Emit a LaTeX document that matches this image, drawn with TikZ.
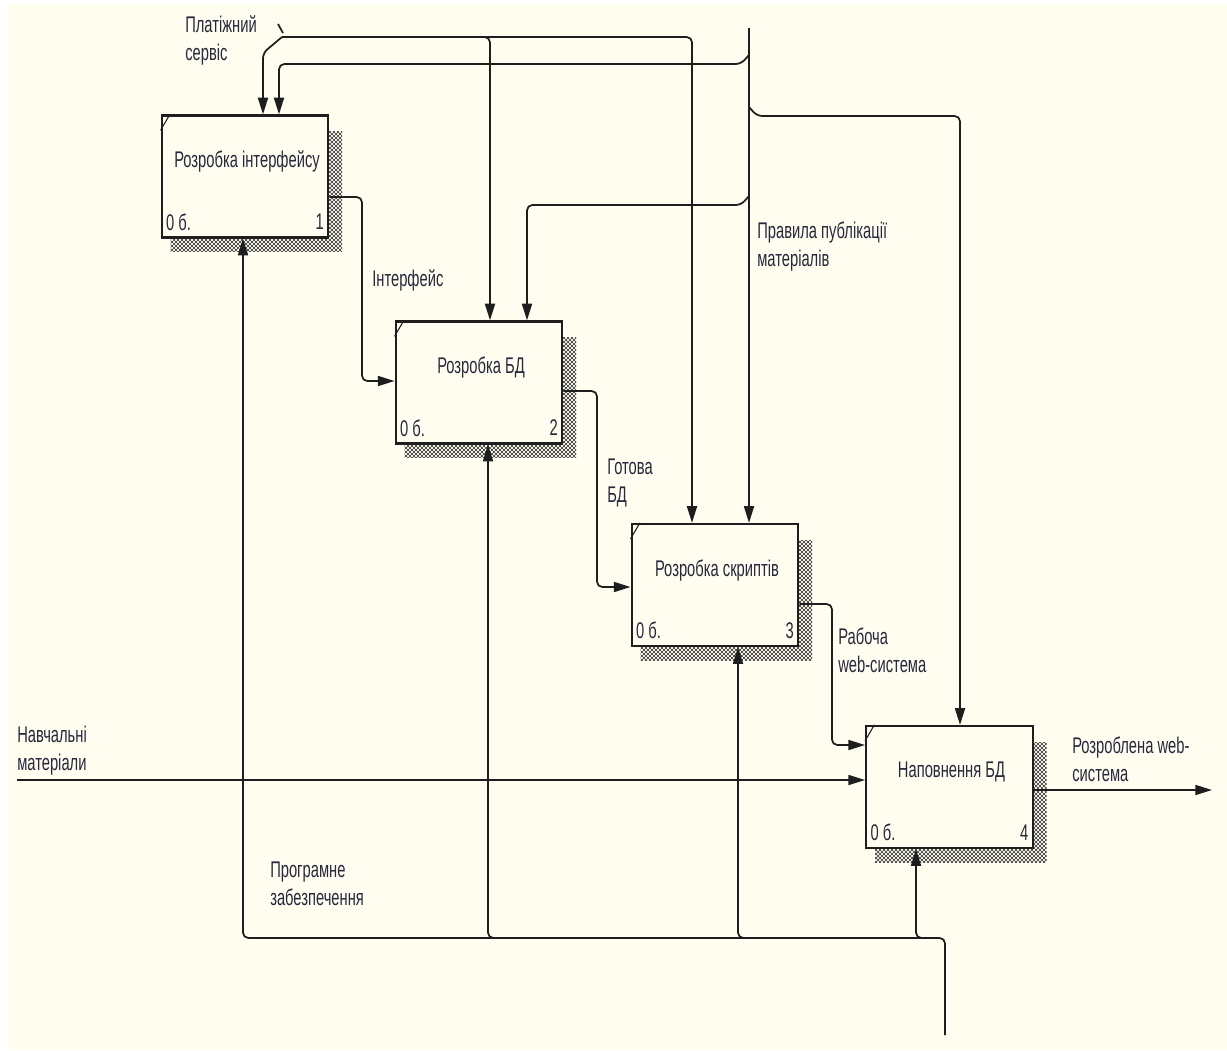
\documentclass[tikz,border=0pt]{standalone}
\usepackage{fontspec}
\newfontfamily\idefont[FakeStretch=0.65]{Liberation Sans}
\usepackage{tikz}
\usetikzlibrary{arrows.meta,patterns,backgrounds}
\definecolor{idefBg}{RGB}{255,253,240}
\definecolor{idefLine}{RGB}{30,30,30}
\definecolor{idefText}{RGB}{40,40,60}
\tikzset{
  actbox/.style={rectangle,draw=idefLine,line width=1.7pt,fill=idefBg,
    minimum width=125pt,minimum height=91.5pt,inner sep=0pt},
  arrow/.style={-{Triangle[length=12.5pt,width=7.5pt]},draw=idefLine,
    line width=1.3pt,rounded corners=4pt},
  conn/.style={draw=idefLine,line width=1.3pt},
  note/.style={font=\idefont\fontsize{17}{21}\selectfont,text=idefText,
    align=left,inner sep=0pt},
  hatch/.style={preaction={pattern=north east lines,pattern color=black!80},
    pattern=north west lines,pattern color=black!80}
}

\begin{document}
\begin{tikzpicture}[x=0.75pt,y=-0.75pt]
  \useasboundingbox (0,0) rectangle (1227,1050);

  % activity boxes
  \node[actbox] (b1) at (245,176.5) {};
  \node[actbox] (b2) at (479,382.5) {};
  \node[actbox] (b3) at (715,585) {};
  \node[actbox] (b4) at (949.5,787) {};

  \node[note] (t1) at ([xshift=1.5pt,yshift=11pt]b1.center) {Розробка інтерфейсу};
  \node[note] (t2) at ([xshift=1.5pt,yshift=11pt]b2.center) {Розробка БД};
  \node[note] (t3) at ([xshift=1.5pt,yshift=11pt]b3.center) {Розробка скриптів};
  \node[note] (t4) at ([xshift=1.5pt,yshift=11pt]b4.center) {Наповнення БД};

  \foreach \b/\n in {b1/1,b2/2,b3/3,b4/4}{
    \node[note,anchor=west] (\b c) at ([xshift=4pt,yshift=12.5pt]\b.south west) {0 б.};
    \node[note,anchor=east] (\b n) at ([xshift=-4pt,yshift=12.5pt]\b.south east) {\n};
    \draw[conn,line width=0.8pt] ([yshift=-12pt]\b.north west) -- ([xshift=7pt]\b.north west);
  }

  % free ends
  \coordinate (paySrc) at (282,37);
  \coordinate (ruleSrc) at (749,28);
  \coordinate (studyIn) at (17,780);
  \coordinate (resOut) at (1212,790);
  \coordinate (softSrc) at (945,1035);

  % controls
  \draw[conn] (278,24) -- (283,33);
  \draw[arrow] (paySrc) -- (263,53) -- (263,0 |- b1.north);
  \draw[arrow] (paySrc) -- (692,37) -- (692,0 |- b3.north);
  \draw[arrow] (482,37) -- (490,37) -- (490,0 |- b2.north);
  \draw[arrow] (ruleSrc) -- (749,0 |- b3.north);
  \draw[arrow] (749,55) -- (741,64) -- (279,64) -- (279,0 |- b1.north);
  \draw[arrow] (749,107) -- (757,116) -- (960,116) -- (960,0 |- b4.north);
  \draw[arrow] (749,196) -- (741,205) -- (527,205) -- (527,0 |- b2.north);

  % outputs and inputs
  \draw[arrow] (b1.east |- 0,197) -- (362,197) -- (362,381) -- (b2.west |- 0,381);
  \draw[arrow] (b2.east |- 0,391) -- (597,391) -- (597,587) -- (b3.west |- 0,587);
  \draw[arrow] (b3.east |- 0,604) -- (832,604) -- (832,745) -- (b4.west |- 0,745);
  \draw[arrow] (b4.east |- 0,790) -- (resOut);
  \draw[arrow] (studyIn) -- (b4.west |- 0,780);

  % mechanisms
  \draw[arrow] (softSrc) -- (945,938) -- (243,938) -- (243,0 |- b1.south);
  \draw[arrow] (497,938) -- (488,938) -- (488,0 |- b2.south);
  \draw[arrow] (747,938) -- (738,938) -- (738,0 |- b3.south);
  \draw[arrow] (925,938) -- (916,938) -- (916,0 |- b4.south);

  % arrow labels
  \node[note,anchor=west] (payLbl) at (185,40.5) {Платіжний\\сервіс};
  \node[note,anchor=west] (ruleLbl) at (757,246.5) {Правила публікації\\матеріалів};
  \node[note,anchor=west] (uiLbl) at (372,280) {Інтерфейс};
  \node[note,anchor=west] (dbLbl) at (607,483) {Готова\\БД};
  \node[note,anchor=west] (webLbl) at (838,650) {Рабоча\\web-система};
  \node[note,anchor=west] (resLbl) at (1072,759) {Розроблена web-\\система};
  \node[note,anchor=west] (studyLbl) at (17,750.5) {Навчальні\\матеріали};
  \node[note,anchor=west] (softLbl) at (270,884) {Програмне\\забезпечення};

  \begin{scope}[on background layer]
    \fill[white] (0,0) rectangle (1227,1050);
    \fill[idefBg] (7,4) rectangle (1227,1050);
    \foreach \b in {b1,b2,b3,b4}
      \path[hatch] ([xshift=7.5pt,yshift=-13pt]\b.north west)
        rectangle ([xshift=9.5pt,yshift=-10pt]\b.south east);
  \end{scope}
\end{tikzpicture}
\end{document}
